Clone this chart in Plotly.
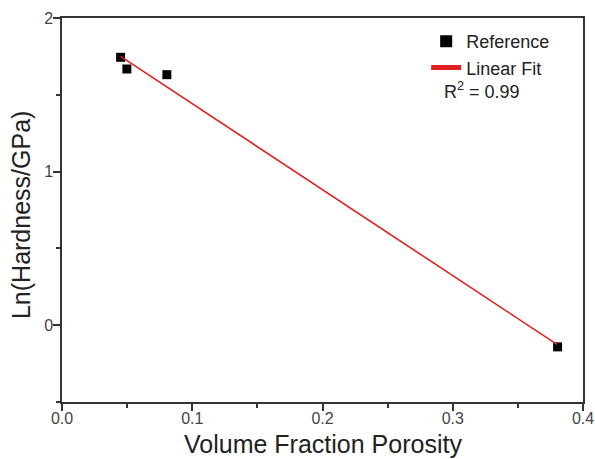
import plotly.graph_objects as go

porosity = [0.045, 0.0498, 0.0805, 0.3805]
ln_hardness = [1.744, 1.668, 1.631, -0.141]
fit_x = [0.045, 0.38]
fit_y = [1.75, -0.125]
x_ticks = [0.0, 0.1, 0.2, 0.3, 0.4]
x_labels = ["0.0", "0.1", "0.2", "0.3", "0.4"]
y_ticks = [0, 1, 2]
y_labels = ["0", "1", "2"]

FONT = "Liberation Sans, Arial, sans-serif"
AX = "#333333"

fig = go.Figure()
fig.add_trace(go.Scatter(x=porosity, y=ln_hardness, mode="markers", name="Reference",
                         marker=dict(symbol="square", size=9, color="black")))
fig.add_trace(go.Scatter(x=fit_x, y=fit_y, mode="lines", name="Linear Fit",
                         line=dict(color="#e02020", width=1.6)))

fig.add_annotation(x=0.73, y=0.812, xref="paper", yref="paper", xanchor="left", yanchor="middle",
                   text="R<sup>2</sup> = 0.99", showarrow=False,
                   font=dict(family=FONT, size=18, color="#222"))
fig.add_annotation(x=0.5, y=-0.11, xref="paper", yref="paper", xanchor="center", yanchor="middle",
                   text="Volume Fraction Porosity", showarrow=False,
                   font=dict(family=FONT, size=25, color="#222"))
fig.add_annotation(x=-0.0786, y=0.487, xref="paper", yref="paper", xanchor="center", yanchor="middle",
                   text="Ln(Hardness/GPa)", showarrow=False, textangle=-90,
                   font=dict(family=FONT, size=25, color="#222"))

axis_common = dict(showline=True, linecolor=AX, linewidth=1.5, mirror=True, showgrid=False,
                   zeroline=False, ticks="outside", tickcolor=AX, tickwidth=1.5, ticklen=7,
                   automargin=False,
                   tickfont=dict(family=FONT, size=16, color="#444"))

fig.update_xaxes(range=[0, 0.4], tickvals=x_ticks, ticktext=x_labels, ticklabelstandoff=-6,
                 minor=dict(ticks="outside", ticklen=4, tickcolor=AX, tickwidth=1.5, dtick=0.05, showgrid=False),
                 **axis_common)
fig.update_yaxes(range=[-0.5, 2], tickvals=y_ticks, ticktext=y_labels, ticklabelstandoff=-3,
                 minor=dict(ticks="outside", ticklen=4, tickcolor=AX, tickwidth=1.5, dtick=0.5, tick0=0, showgrid=False),
                 **axis_common)

fig.update_layout(width=595, height=459, margin=dict(l=62, r=12, t=18, b=57),
                  plot_bgcolor="white", paper_bgcolor="white",
                  legend=dict(x=0.699, y=0.987, xanchor="left", yanchor="top",
                              font=dict(family=FONT, size=18, color="#222"),
                              bgcolor="rgba(0,0,0,0)", tracegroupgap=0, itemsizing="constant"),
                  showlegend=True)

fig.write_html("out.html")
